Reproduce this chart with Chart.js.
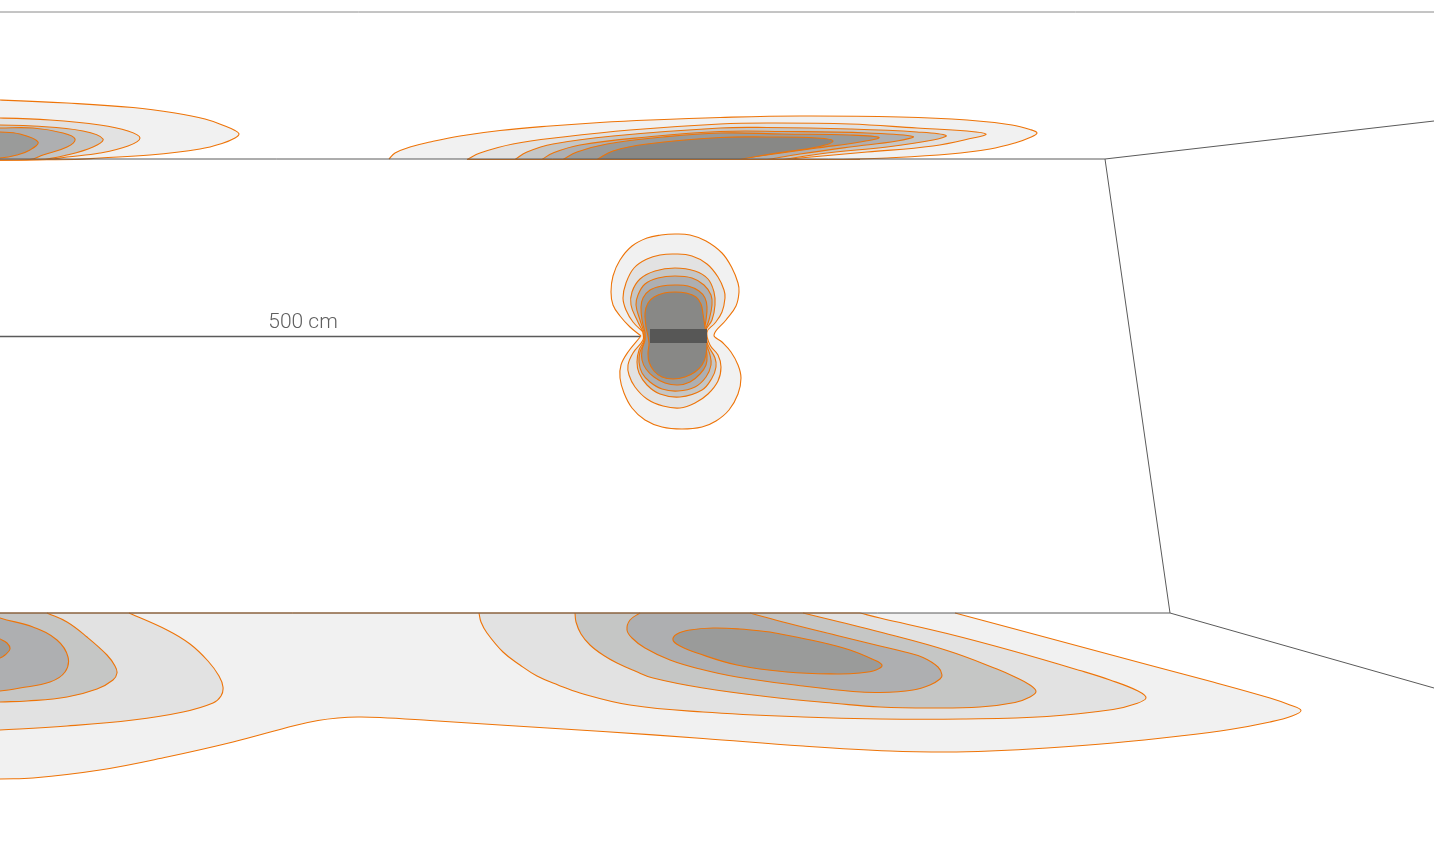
<!DOCTYPE html>
<html><head><meta charset="utf-8">
<style>html,body{margin:0;padding:0;background:#fff;overflow:hidden}canvas{display:block}</style>
<script src="https://cdn.jsdelivr.net/npm/chart.js@4"></script>
</head><body><canvas id="c" width="1434" height="851"></canvas>
<script>
// Contours: [x, y] in the drawing's own units
const coreL1=[[641,336],[630,327],[620,316],[613,305],[611,292],[613,276],[620,260],[632,246],[647,238],[661,235],[675,234],[690,235],[706,241],[722,253],[732,268],[738,283],[739,292],[736,306],[726,320],[714,335],[722,342],[731,352],[738,365],[741,378],[738,394],[729,410],[716,421],[702,427],[682,429],[662,427],[645,420],[632,408],[624,393],[620,378],[621,365],[628,352],[641,336]];
const coreL2=[[643,332],[633,322],[626,310],[623,298],[626,283],[634,268],[647,259],[660,255],[675,254],[692,256],[707,264],[718,277],[724,290],[725,298],[722,312],[715,323],[707,332],[710,345],[718,355],[721,367],[718,381],[708,394],[695,403],[680,408],[663,406],[647,399],[635,387],[629,375],[628,365],[633,353],[643,340],[643,332]];
const coreL3=[[643,332],[637,320],[631,305],[632,292],[640,279],[655,271],[675,268],[695,271],[708,279],[714,292],[715,305],[712,320],[705,332],[708,345],[715,358],[716,367],[712,378],[702,390],[680,397],[660,394],[647,385],[639,373],[637,362],[639,350],[644,340],[643,332]];
const coreL4=[[644,332],[640,320],[636,305],[638,295],[645,284],[658,278],[675,276],[692,278],[704,285],[711,295],[712,305],[709,320],[705,332],[706,343],[710,355],[711,365],[706,377],[695,387],[678,391],[662,389],[650,382],[642,373],[639,362],[640,352],[644,342],[644,332]];
const coreL5=[[645,332],[642,320],[641,307],[643,298],[650,290],[662,286],[675,285],[688,286],[699,291],[705,298],[707,307],[706,320],[704,332],[705,343],[707,355],[706,365],[700,374],[690,382],[678,385],[665,383],[654,377],[646,369],[642,360],[642,350],[645,340],[645,332]];
const coreL6=[[646,327],[645,313],[648,303],[654,297],[664,293],[675,292],[686,293],[696,297],[701,304],[703,314],[705,327],[707,343],[706,355],[702,365],[695,372],[685,377],[673,379],[662,377],[654,371],[649,362],[648,353],[649,343],[646,327]];
const coreBar=[[650,329],[707,329],[707,343],[650,343],[650,329]];

const topRightL1=[[389,159],[395,153],[410,147],[430,142],[460,136],[500,130.5],[550,126],[600,122.5],[650,120],[720,117.5],[800,116],[900,117],[967,120],[1012,125],[1030,129.5],[1037,133],[1030,137.5],[1015,143],[990,149],[950,154],[887,158],[843,159.5]];
const topRightL2=[[467,159.5],[480,153],[513,144],[563,137],[630,130],[720,124],[767,123],[850,124],[917,128],[967,131],[986,134],[973,138],[933,146],[867,152],[800,158],[785,159.5]];
const topRightL3=[[515,159.5],[527,152],[553,144],[613,136],[720,128],[767,127.5],[850,129],[917,132],[946,135.5],[933,140],[887,147],[827,153],[783,159.5]];
const topRightL4=[[542,159.5],[553,153],[580,145],[647,137],[720,131.5],[783,131.5],[867,133],[913,136.5],[897,141],[850,147],[800,154],[767,159.5]];
const topRightL5=[[563,159.5],[577,152],[607,144],[663,137],[720,133],[783,134],[850,135],[879,137.5],[860,142],[817,148],[767,155],[733,159.5]];
const topRightL6=[[597,159.5],[613,151],[647,144],[720,137.5],[767,137],[817,138],[833,141],[817,147],[777,153],[740,159.5]];

const topLeftL1=[[-40,99],[0,100],[67,103],[133,107.5],[175,113],[205,119],[225,126],[235,130.5],[239,134],[235,138],[222,143.5],[200,149],[150,155],[100,158],[75,159.5],[-40,159.5]];
const topLeftL2=[[-40,118],[0,118],[50,120],[100,125],[128,131],[140,138],[128,146],[100,153],[67,157],[47,159.5],[-40,159.5]];
const topLeftL3=[[-40,124],[0,125],[33,126],[83,131],[103,139],[93,147],[67,155],[40,159.5],[-40,159.5]];
const topLeftL4=[[-40,128],[0,128],[33,128],[63,133],[75,139],[67,147],[43,155],[30,159.5],[-40,159.5]];
const topLeftL5=[[-40,131],[0,132],[20,134],[38,142],[30,150],[17,155],[0,158],[-40,159.5]];

const bottomL1=[[955,613],[1013,628.5],[1080,646.5],[1147,664.5],[1213,682],[1270,698],[1290,705],[1301,710.5],[1292,716],[1270,722],[1230,729.5],[1180,736],[1113,743],[1047,748],[990,751],[947,752],[890,751],[803,746],[703,738.5],[603,731.5],[500,725],[430,720.5],[380,717.5],[358,717],[338,718],[318,720.5],[295,725.5],[233,742],[167,757],[100,770],[33,778],[0,779],[-40,781],[-40,613]];
const bottomLeftL2=[[129,613],[167,630],[190,644],[208,661],[219,676],[223,687],[221,696],[213,703],[183,712],[133,720],[67,726],[0,730],[-40,732],[-40,613]];
const bottomLeftL3=[[47,613],[67,622],[87,637],[107,655],[115,666],[117,673],[113,680],[97,689],[67,697],[27,701],[0,702],[-40,704],[-40,613]];
const bottomLeftL4=[[-10,613],[0,618],[33,627],[57,640],[68,657],[65,672],[50,682],[20,688],[0,691],[-40,694],[-40,613]];
const bottomLeftL5=[[-20,630],[0,639],[7,643],[10,649],[5,655],[0,658],[-20,664]];
const bottomRightL2=[[479,613],[481,622],[487,633],[503,652],[520,665],[537,676],[558,685],[580,693],[630,705],[703,712],[803,717],[880,719],[963,719],[1047,716.5],[1113,709.5],[1135,704],[1146,698],[1138,691],[1110,680],[1080,670.5],[1013,651],[947,633.5],[880,618],[860,613]];
const bottomRightL3=[[575,613],[576,622],[581,634],[590,645],[603,655],[617,663],[635,671],[653,678],[703,688],[770,697],[837,703.5],[880,707],[930,708],[980,707],[1015,702.5],[1030,697],[1036,691.5],[1030,685],[1015,677],[997,669],[947,650.5],[880,632],[840,622],[803,613]];
const bottomRightL4=[[640,613],[630,620],[627,630],[632,638],[645,648],[670,660],[700,669],[737,677],[803,686],[853,691.5],[880,692.5],[913,690],[930,685],[940,679],[942,675],[938,667],[923,657.5],[905,652],[880,646],[837,635.5],[787,623],[750,613]];
const bottomRightL5=[[770,632],[820,642],[850,650],[872,659],[882,665],[876,670],[860,673],[837,674],[787,672],[737,665],[697,653],[680,646],[673,640],[677,634],[690,630],[713,628],[740,629],[770,632]];

const baseTop=[[467,159.5],[860,159.5]];
const baseBottom=[[0,613],[860,613]];

const frameTopEdge=[[0,12],[1434,12]];
const frameBack=[[0,159],[1105,159],[1434,121]];
const frameSide=[[1105,159],[1170,613]];
const frameFloor=[[0,613],[1170,613],[1434,688]];
const dimension=[[0,336.5],[640,336.5]];
const dimensionLabel='500 cm';

const shades=['#f1f1f1','#e2e2e2','#c5c6c5','#aeafb1','#9a9b9a','#888886'];
const ORANGE='#ee7408', LINE='#5a5a5a';

const toXY=a=>a.map(p=>({x:p[0],y:p[1]}));
function contour(pts,level){return {data:toXY(pts),showLine:true,fill:'shape',backgroundColor:shades[level],borderColor:ORANGE,borderWidth:1.1,tension:.4,pointRadius:0,pointHoverRadius:0};}
function rule(pts,color,w){return {data:toXY(pts),showLine:true,fill:false,borderColor:color,borderWidth:w,tension:0,pointRadius:0,pointHoverRadius:0};}

const paint=[
 contour(bottomL1,0),contour(bottomLeftL2,1),contour(bottomRightL2,1),contour(bottomLeftL3,2),contour(bottomRightL3,2),
 contour(bottomLeftL4,3),contour(bottomRightL4,3),contour(bottomLeftL5,4),contour(bottomRightL5,4),
 contour(topRightL1,0),contour(topRightL2,1),contour(topRightL3,2),contour(topRightL4,3),contour(topRightL5,4),contour(topRightL6,5),
 contour(topLeftL1,0),contour(topLeftL2,1),contour(topLeftL3,2),contour(topLeftL4,3),contour(topLeftL5,4),
 rule(baseTop,ORANGE,1.2),rule(baseBottom,ORANGE,1.2),
 rule(frameTopEdge,'#8a8a8a',1),rule(frameBack,LINE,1),rule(frameSide,LINE,1),rule(frameFloor,LINE,1),rule(dimension,LINE,1.4),
 contour(coreL1,0),contour(coreL2,1),contour(coreL3,2),contour(coreL4,3),contour(coreL5,4),contour(coreL6,5),
 {data:toXY(coreBar),showLine:true,fill:'shape',backgroundColor:'#575756',borderWidth:0,tension:0,pointRadius:0,pointHoverRadius:0}
];
paint.forEach((d,i)=>{d.order=paint.length-i;});

const labelPlugin={id:'dimLabel',afterDatasetsDraw(chart){
  const {ctx,scales}=chart;ctx.save();
  ctx.font='300 21px Roboto, "Liberation Sans", sans-serif';ctx.fillStyle='#5f5f5f';
  ctx.textAlign='center';ctx.textBaseline='alphabetic';
  ctx.fillText(dimensionLabel,scales.x.getPixelForValue(303),scales.y.getPixelForValue(328));
  ctx.restore();
}};

new Chart(document.getElementById('c'),{
  type:'scatter',
  data:{datasets:paint},
  plugins:[labelPlugin],
  options:{responsive:false,animation:false,devicePixelRatio:1,
    layout:{padding:0},
    plugins:{legend:{display:false},tooltip:{enabled:false},title:{display:false}},
    scales:{
      x:{type:'linear',min:0,max:1434,display:false},
      y:{type:'linear',min:0,max:851,reverse:true,display:false}
    }}
});
</script></body></html>
